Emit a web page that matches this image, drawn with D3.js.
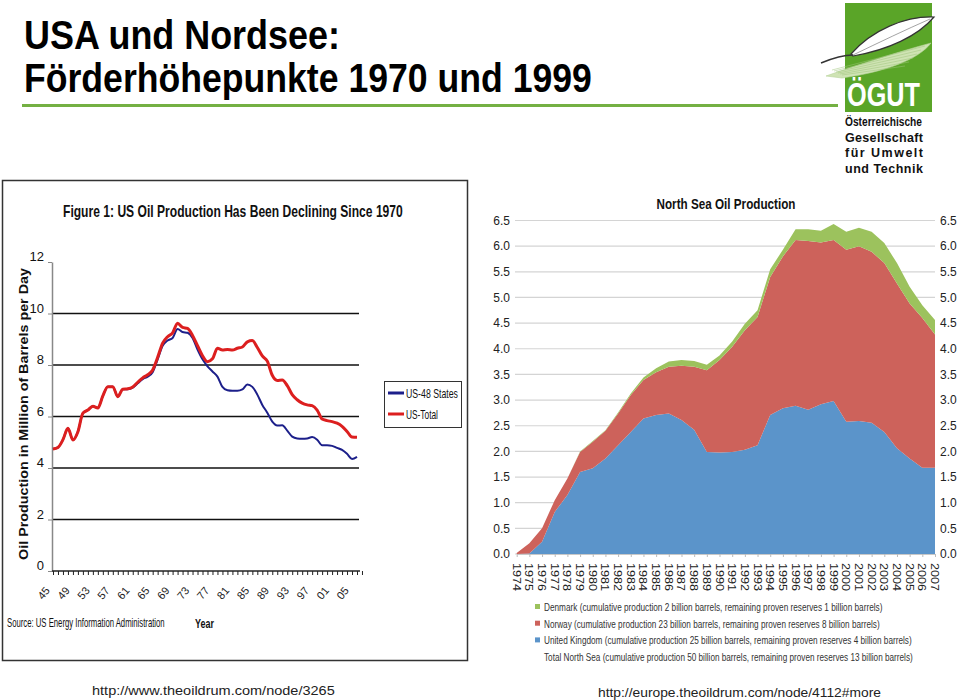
<!DOCTYPE html>
<html><head><meta charset="utf-8">
<script src="https://cdnjs.cloudflare.com/ajax/libs/d3/7.8.5/d3.min.js"></script>
<style>
html,body{margin:0;padding:0;background:#fff;}
svg{display:block;}
text{font-family:"Liberation Sans Narrow","Arial Narrow","Liberation Sans",Arial,sans-serif;}
</style></head>
<body>
<script>
// ---------------- DATA ----------------
// Left chart: US oil production (million barrels per day)
const usYears = [1945,1946,1947,1948,1949,1950,1951,1952,1953,1954,1955,1956,1957,1958,1959,1960,1961,1962,1963,1964,1965,1966,1967,1968,1969,1970,1971,1972,1973,1974,1975,1976,1977,1978,1979,1980,1981,1982,1983,1984,1985,1986,1987,1988,1989,1990,1991,1992,1993,1994,1995,1996,1997,1998,1999,2000,2001,2002,2003,2004,2005,2006];
const usTotal = [4.74,4.80,5.10,5.54,5.09,5.41,6.13,6.25,6.40,6.33,6.80,7.16,7.16,6.77,7.06,7.08,7.15,7.33,7.50,7.62,7.81,8.30,8.85,9.10,9.25,9.62,9.46,9.42,9.15,8.75,8.36,8.13,8.24,8.65,8.58,8.60,8.58,8.65,8.70,8.90,8.95,8.68,8.35,8.15,7.60,7.40,7.42,7.20,6.85,6.65,6.52,6.45,6.42,6.25,5.90,5.84,5.80,5.74,5.62,5.42,5.20,5.19];
const us48 = [4.74,4.80,5.10,5.54,5.09,5.41,6.13,6.25,6.40,6.33,6.80,7.16,7.16,6.77,7.06,7.06,7.12,7.29,7.45,7.55,7.72,8.22,8.75,8.95,9.05,9.40,9.28,9.25,9.05,8.60,8.22,7.95,7.75,7.55,7.15,7.02,7.00,7.00,7.05,7.24,7.15,6.85,6.45,6.15,5.80,5.65,5.66,5.45,5.22,5.15,5.14,5.15,5.20,5.10,4.88,4.88,4.86,4.78,4.70,4.55,4.35,4.43];
const usTickYears = [1945,1949,1953,1957,1961,1965,1969,1973,1977,1981,1985,1989,1993,1997,2001,2005];
const usTickLabels = ["45","49","53","57","61","65","69","73","77","81","85","89","93","97","01","05"];
const usYTicks = [0,2,4,6,8,10,12];
const usGrid = [2,4,6,8,10];
const usSeriesNames = ["US-48 States","US-Total"];

// Right chart: North Sea oil production (million barrels per day), stacked
const nsYears = [1974,1975,1976,1977,1978,1979,1980,1981,1982,1983,1984,1985,1986,1987,1988,1989,1990,1991,1992,1993,1994,1995,1996,1997,1998,1999,2000,2001,2002,2003,2004,2005,2006,2007];
const ukValues = [0.00,0.01,0.24,0.82,1.15,1.60,1.67,1.86,2.12,2.38,2.64,2.71,2.74,2.61,2.42,1.99,1.98,1.99,2.03,2.12,2.71,2.84,2.89,2.81,2.92,2.98,2.58,2.59,2.56,2.38,2.06,1.86,1.68,1.68];
const norwayValues = [0.02,0.20,0.26,0.23,0.32,0.39,0.52,0.54,0.62,0.72,0.75,0.83,0.91,1.06,1.23,1.59,1.80,2.05,2.33,2.50,2.69,2.96,3.23,3.29,3.15,3.14,3.35,3.41,3.33,3.29,3.21,3.02,2.92,2.60];
const denmarkValues = [0.00,0.00,0.00,0.00,0.00,0.01,0.01,0.01,0.02,0.03,0.05,0.08,0.10,0.11,0.11,0.11,0.09,0.10,0.13,0.13,0.15,0.13,0.21,0.23,0.23,0.31,0.35,0.36,0.39,0.39,0.40,0.33,0.25,0.28];
const nsYTicks = [0,0.5,1,1.5,2,2.5,3,3.5,4,4.5,5,5.5,6,6.5];
const nsLegend = [
  "Denmark (cumulative production 2 billion barrels, remaining proven reserves 1 billion barrels)",
  "Norway (cumulative production 23 billion barrels, remaining proven reserves 8 billion barrels)",
  "United Kingdom (cumulative production 25 billion barrels, remaining proven reserves 4 billion barrels)",
  "Total North Sea (cumulative production 50 billion barrels, remaining proven reserves 13 billion barrels)"
];

// ---------------- HELPERS ----------------
// condensed text: natural text scaled horizontally to a target width
function ctext(parent, x, y, str, o) {
  const t = parent.append("text")
    .attr("font-size", o.size).attr("font-weight", o.weight || "normal")
    .attr("fill", o.fill || "#111").attr("text-anchor", o.anchor || "start")
    .text(str);
  if (o.family) t.attr("font-family", o.family);
  const w = t.node().getComputedTextLength();
  const s = o.width / w;
  t.attr("transform", `translate(${x},${y})${o.rotate ? ` rotate(${o.rotate})` : ""} scale(${s},1)`);
  return t;
}

// ---------------- DRAW ----------------
const W = 959, H = 700;
const svg = d3.select("body").append("svg").attr("width", W).attr("height", H);

// Slide title
ctext(svg, 24, 49, "USA und Nordsee:", { size: 40, weight: "bold", fill: "#000", width: 316 });
ctext(svg, 24, 92, "Förderhöhepunkte 1970 und 1999", { size: 40, weight: "bold", fill: "#000", width: 568 });
svg.append("line").attr("x1", 22).attr("x2", 838).attr("y1", 105.5).attr("y2", 105.5)
  .attr("stroke", "#74b043").attr("stroke-width", 3);

// Logo
const logo = svg.append("g");
logo.append("rect").attr("x", 845).attr("y", 3).attr("width", 87).attr("height", 109).attr("fill", "#5aa528");
logo.append("path").attr("d", "M826,76 C860,64 898,52 931,43 C918,60 884,72 842,78 Z")
  .attr("fill", "#cfe3b4").attr("stroke", "#b7d49a").attr("stroke-width", 0.6);
for (let i = 0; i < 6; i++) {
  logo.append("line").attr("x1", 832 + i * 2).attr("y1", 70 + i).attr("x2", 925 - i * 4).attr("y2", 46 + i * 4)
    .attr("stroke", "#9ec47a").attr("stroke-width", 0.5);
}
logo.append("path").attr("d", "M851,54 C872,30 905,16 934,17 C918,36 888,50 853,56 Z")
  .attr("fill", "#fff").attr("stroke", "#333").attr("stroke-width", 1.2);
logo.append("path").attr("d", "M821,63 C833,58 845,55 853,55").attr("fill", "none").attr("stroke", "#333").attr("stroke-width", 1.4);
logo.append("path").attr("d", "M853,55 C880,42 905,30 930,19").attr("fill", "none").attr("stroke", "#666").attr("stroke-width", 0.6);
ctext(logo, 847, 106, "ÖGUT", { size: 34, weight: "bold", fill: "#fff", width: 73 });
const logoLines = ["Österreichische", "Gesellschaft", "für Umwelt", "und Technik"];
logoLines.forEach((t, i) => {
  logo.append("text").attr("x", 845).attr("y", 126 + i * 15.5).attr("font-size", 12.5).attr("font-weight", "bold")
    .attr("fill", "#111").attr("textLength", i === 0 ? 77 : 78).attr("lengthAdjust", i === 0 ? "spacingAndGlyphs" : "spacing").text(t);
});

// ---------------- LEFT CHART ----------------
const L = svg.append("g");
L.append("rect").attr("x", 2.5).attr("y", 180.5).attr("width", 465).attr("height", 480)
  .attr("fill", "#fff").attr("stroke", "#333").attr("stroke-width", 1.5);
ctext(L, 63, 217, "Figure 1: US Oil Production Has Been Declining Since 1970", { size: 16, weight: "bold", fill: "#111", width: 340 });

const xL = d3.scaleLinear().domain([1945, 2006]).range([53, 357]);
const yL = d3.scaleLinear().domain([0, 12]).range([571, 262]);

// gridlines
L.selectAll(".gl").data(usGrid).join("line")
  .attr("x1", 52).attr("x2", 359).attr("y1", d => yL(d)).attr("y2", d => yL(d))
  .attr("stroke", "#111").attr("stroke-width", 1.6);

// y axis
const yAx = L.append("g").attr("transform", "translate(52,0)")
  .call(d3.axisLeft(yL).tickValues(usYTicks).tickSize(4).tickSizeOuter(0).tickFormat(d3.format("d")));
yAx.select(".domain").attr("stroke", "#888").attr("stroke-width", 1.5);
yAx.selectAll(".tick line").attr("stroke", "#888");
yAx.selectAll(".tick text").attr("font-family", '"Liberation Sans Narrow","Arial Narrow",sans-serif')
  .attr("font-size", 13).attr("fill", "#111").attr("x", -8).attr("dy", "-0.1em");

// x axis
const xAx = L.append("g").attr("transform", "translate(0,571)")
  .call(d3.axisBottom(xL).tickValues(usYears.concat([2007])).tickSize(4).tickSizeOuter(0).tickFormat(""));
xAx.select(".domain").attr("stroke", "#222").attr("stroke-width", 1.6).attr("d", "M52,0H360");
xAx.selectAll(".tick line").attr("stroke", "#222");
L.selectAll(".xl").data(usTickYears).join("text")
  .attr("transform", d => `translate(${xL(d) - 9.5},593) rotate(-50)`)
  .attr("text-anchor", "middle").attr("dominant-baseline", "central")
  .attr("font-size", 11).attr("fill", "#222")
  .text((d, i) => usTickLabels[i]);

// axis titles
ctext(L, 28, 414, "Oil Production in Million of Barrels per Day", { size: 12, weight: "bold", fill: "#111", width: 292, anchor: "middle", rotate: -90 });
ctext(L, 195, 628, "Year", { size: 13, weight: "bold", fill: "#111", width: 19 });
ctext(L, 7, 627, "Source: US Energy Information Administration", { size: 12, fill: "#111", width: 158 });

// lines
const lineL = (vals) => d3.line().x((d, i) => xL(usYears[i])).y(d => yL(d)).curve(d3.curveMonotoneX)(vals);
L.append("path").attr("d", lineL(us48)).attr("fill", "none").attr("stroke", "#1c1f8a").attr("stroke-width", 2)
  .attr("stroke-linejoin", "round");
L.append("path").attr("d", lineL(usTotal)).attr("fill", "none").attr("stroke", "#dc1f1f").attr("stroke-width", 3)
  .attr("stroke-linejoin", "round");

// legend
L.append("rect").attr("x", 384.5).attr("y", 381.5).attr("width", 77).attr("height", 46)
  .attr("fill", "#fff").attr("stroke", "#333").attr("stroke-width", 1);
const legColors = ["#1c1f8a", "#dc1f1f"];
usSeriesNames.forEach((n, i) => {
  const yy = 393 + i * 21;
  L.append("line").attr("x1", 388).attr("x2", 404).attr("y1", yy).attr("y2", yy)
    .attr("stroke", legColors[i]).attr("stroke-width", 3);
  ctext(L, 406, yy + 4.5, n, { size: 12.5, fill: "#111", width: i === 0 ? 52 : 32 });
});

// ---------------- RIGHT CHART ----------------
const R = svg.append("g");
const xR = d3.scaleLinear().domain([1974, 2007]).range([516.7, 935]);
const yR = d3.scaleLinear().domain([0, 6.5]).range([554, 220.5]);

ctext(R, 726, 209, "North Sea Oil Production", { size: 15, weight: "bold", fill: "#111", width: 139, anchor: "middle" });

R.selectAll(".rg").data(nsYTicks).join("line")
  .attr("x1", 515).attr("x2", 935).attr("y1", d => yR(d)).attr("y2", d => yR(d))
  .attr("stroke", "#d4d4d4").attr("stroke-width", 1.2);

const fmt1 = d3.format(".1f");
const yAxL = R.append("g").attr("transform", "translate(515,0)")
  .call(d3.axisLeft(yR).tickValues(nsYTicks).tickSize(0).tickPadding(5).tickFormat(fmt1));
yAxL.select(".domain").remove();
yAxL.selectAll("text").attr("font-family", '"Liberation Sans Narrow","Arial Narrow",sans-serif').attr("font-size", 12).attr("fill", "#222");
const yAxR = R.append("g").attr("transform", "translate(935,0)")
  .call(d3.axisRight(yR).tickValues(nsYTicks).tickSize(0).tickPadding(5).tickFormat(fmt1));
yAxR.select(".domain").remove();
yAxR.selectAll("text").attr("font-family", '"Liberation Sans Narrow","Arial Narrow",sans-serif').attr("font-size", 12).attr("fill", "#222");

const table = nsYears.map((y, i) => ({ year: y, uk: ukValues[i], norway: norwayValues[i], denmark: denmarkValues[i] }));
const keys = ["uk", "norway", "denmark"];
const colors = { uk: "#5b94ca", norway: "#cd625b", denmark: "#9cc25d" };
const stacked = d3.stack().keys(keys)(table);
const area = d3.area().x(d => xR(d.data.year)).y0(d => yR(d[0])).y1(d => yR(d[1]));
R.selectAll(".ar").data(stacked).join("path")
  .attr("d", area).attr("fill", d => colors[d.key]);

// x axis ticks and labels
const xAxR = R.append("g").attr("transform", "translate(0,554)")
  .call(d3.axisBottom(xR).tickValues(nsYears).tickSize(3).tickSizeOuter(0).tickFormat(""));
xAxR.select(".domain").attr("stroke", "#c8c8c8");
xAxR.selectAll(".tick line").attr("stroke", "#bbb");
R.selectAll(".yl").data(nsYears).join("text")
  .attr("transform", d => `translate(${xR(d)},563) rotate(90)`)
  .attr("text-anchor", "start").attr("dominant-baseline", "central")
  .attr("font-family", "Liberation Sans, Arial, sans-serif")
  .attr("font-size", 11).attr("fill", "#222").attr("textLength", 28).attr("lengthAdjust", "spacingAndGlyphs")
  .text(d => String(d));

// legend
const legendColors = [colors.denmark, colors.norway, colors.uk, null];
const legendLens = [339, 336, 368, 369];
nsLegend.forEach((t, i) => {
  const yy = 607 + i * 16.7;
  if (legendColors[i]) R.append("rect").attr("x", 535).attr("y", yy - 3).attr("width", 5).attr("height", 5).attr("fill", legendColors[i]);
  ctext(R, 544, yy + 4, t, { size: 11, fill: "#333", width: legendLens[i] });
});

// URLs
ctext(svg, 92, 695, "http://www.theoildrum.com/node/3265", { size: 13, fill: "#222", width: 243, family: "Liberation Sans, Arial, sans-serif" });
ctext(svg, 598, 697, "http://europe.theoildrum.com/node/4112#more", { size: 13, fill: "#222", width: 283, family: "Liberation Sans, Arial, sans-serif" });
</script>
</body></html>
